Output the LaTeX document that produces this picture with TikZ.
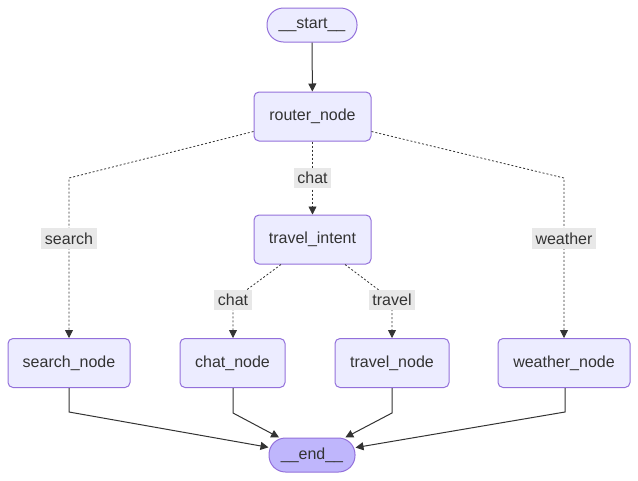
\documentclass[tikz,border=0pt]{standalone}
\usepackage{fontspec}
\setmainfont{Liberation Sans}
\usetikzlibrary{arrows.meta}
\definecolor{nodefill}{HTML}{ECECFF}
\definecolor{nodeline}{HTML}{9370DB}
\definecolor{endfill}{HTML}{BFB6FC}
\definecolor{ink}{HTML}{333333}
\definecolor{labelfill}{HTML}{E8E8E8}
\tikzset{
  box/.style={draw=nodeline, fill=nodefill, line width=1pt, rounded corners=5pt,
    minimum height=49pt, text=ink, inner sep=0pt},
  pill/.style={draw=nodeline, line width=1pt, rounded corners=16.5pt,
    minimum height=34pt, text=ink, inner sep=0pt},
  cond/.style={draw=ink, line width=0.8pt, dash pattern=on 2pt off 2pt,
    -{Triangle[length=8pt,width=8pt]}},
  plain/.style={draw=ink, line width=1pt, -{Triangle[length=8pt,width=8pt]}},
  lbl/.style={fill=labelfill, text=ink, inner xsep=3.5pt, inner ysep=4.5pt}
}
\begin{document}
\begin{tikzpicture}[x=1pt, y=-1pt, font=\fontsize{16pt}{19pt}\selectfont]
      \useasboundingbox (0,0) rectangle (638,480);
      \node[pill, fill=nodefill, minimum width=90pt] (start) at (312,25) {\_\_start\_\_};
      \node[box, minimum width=117pt] (router) at (312.5,116.5) {router\_node};
      \node[box, minimum width=117pt] (intent) at (312.5,239.5) {travel\_intent};
      \node[box, minimum width=122pt] (search) at (69,363) {search\_node};
      \node[box, minimum width=105pt] (chat) at (232.5,363) {chat\_node};
      \node[box, minimum width=114pt] (travel) at (392,363) {travel\_node};
      \node[box, minimum width=132pt] (weather) at (564,363) {weather\_node};
      \node[pill, fill=endfill, minimum width=86pt] (end) at (312,455) {\_\_end\_\_};
      \coordinate (searchbend) at (69,178);
      \coordinate (weatherbend) at (564,178);
      \coordinate (chatbend) at (233,300);
      \coordinate (travelbend) at (392,300);
      \coordinate (searchout) at (69,412);
      \coordinate (chatout) at (233,413);
      \coordinate (travelout) at (392,413);
      \coordinate (weatherout) at (565,412);
      \begin{scope}[plain]
        \draw (start) -- (router);
        \draw (search) -- (searchout) -- (end);
        \draw (chat.south -| chatout) -- (chatout) -- (end);
        \draw (travel) -- (travelout) -- (end);
        \draw (weather.south -| weatherout) -- (weatherout) -- (end);
      \end{scope}
      \begin{scope}[cond]
        \draw ([yshift=10pt]router.south west) -- (searchbend)
          -- node[lbl, pos=0.38]{search} (search);
        \draw (router) -- node[lbl]{chat} (intent);
        \draw ([yshift=10pt]router.south east) -- (weatherbend)
          -- node[lbl, pos=0.38]{weather} (weather);
        \draw ([xshift=-31.5pt]intent.south) -- (chatbend)
          node[lbl]{chat} -- (chat.north -| chatbend);
        \draw ([xshift=32.5pt]intent.south) -- (travelbend)
          node[lbl]{travel} -- (travel);
      \end{scope}
    \end{tikzpicture}
\end{document}
